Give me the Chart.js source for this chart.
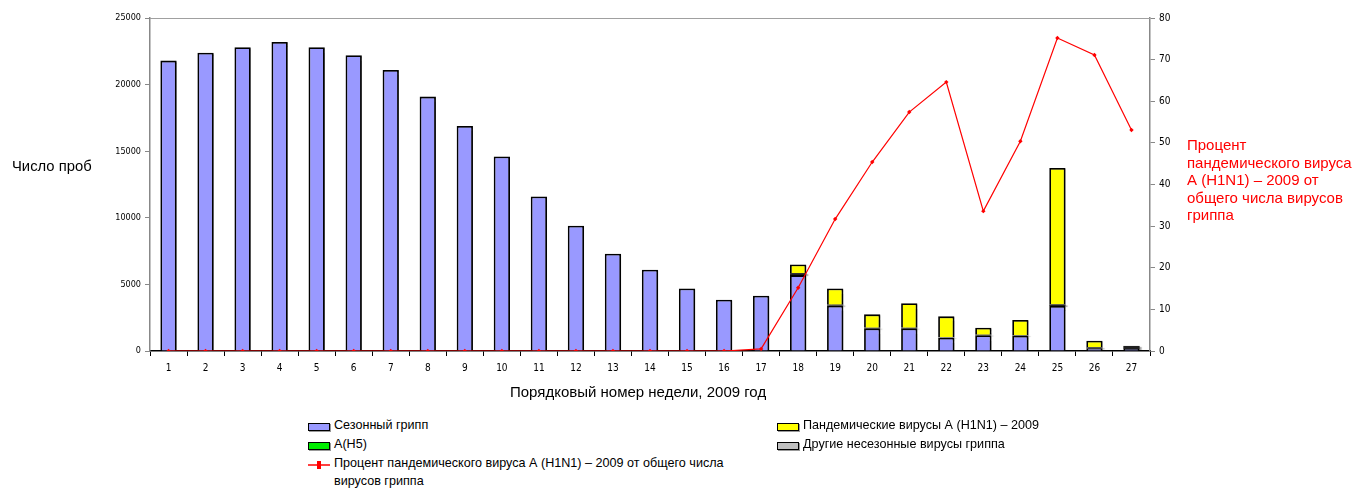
<!DOCTYPE html>
<html><head><meta charset="utf-8">
<script src="https://cdn.jsdelivr.net/npm/chart.js@4"></script>
<style>
body{margin:0;background:#fff;font-family:"Liberation Sans",Arial,sans-serif;}
#wrap{position:absolute;left:0;top:0;width:1358px;height:400px;}
.t{position:absolute;white-space:nowrap;color:#000;}
.lg{position:absolute;font-size:12.6px;color:#000;white-space:nowrap;}
.sw{position:absolute;width:20px;height:6px;border:1px solid #000;box-shadow:1px 1px 0 #999;}
</style></head><body>
<div id="wrap"><canvas id="c" width="1358" height="400"></canvas></div>
<div class="t" style="left:12px;top:158px;font-size:14.8px;">Число проб</div>
<div class="t" style="left:510px;top:383px;font-size:15px;">Порядковый номер недели, 2009 год</div>
<div class="t" style="left:1187px;top:136px;font-size:15px;color:#f00;line-height:17.5px;">Процент<br>пандемического вируса<br>А (H1N1) – 2009 от<br>общего числа вирусов<br>гриппа</div>
<div class="sw" style="left:308px;top:423px;background:#9999ff;"></div>
<div class="lg" style="left:334px;top:418px;">Сезонный грипп</div>
<div class="sw" style="left:308px;top:442px;background:#00ee00;"></div>
<div class="lg" style="left:334px;top:437px;">A(H5)</div>
<div style="position:absolute;left:308px;top:464px;width:22px;height:2px;background:#ff4040;"></div>
<div style="position:absolute;left:317px;top:461px;width:4px;height:8px;background:#ff0000;"></div>
<div class="lg" style="left:334px;top:456px;">Процент пандемического вируса А (H1N1) – 2009 от общего числа</div>
<div class="lg" style="left:334px;top:474px;">вирусов гриппа</div>
<div class="sw" style="left:777px;top:423px;background:#ffff00;"></div>
<div class="lg" style="left:803px;top:418px;">Пандемические вирусы А (H1N1) – 2009</div>
<div class="sw" style="left:777px;top:442px;background:#c0c0c0;"></div>
<div class="lg" style="left:803px;top:437px;">Другие несезонные вирусы гриппа</div>
<script>
const weeks = ['1','2','3','4','5','6','7','8','9','10','11','12','13','14','15','16','17','18','19','20','21','22','23','24','25','26','27'];
const seasonal = [21800,22400,22800,23200,22800,22200,21100,19100,16900,14600,11600,9400,7300,6100,4700,3850,4150,5700,3400,1700,1700,1000,1180,1150,3380,200,150];
const h5 = [0,0,0,0,0,0,0,0,0,0,0,0,0,0,0,0,0,0,0,0,0,0,0,0,0,0,0];
const otherNonSeasonal = [0,0,0,0,0,0,0,0,0,0,0,0,0,0,0,0,0,150,80,40,40,30,40,40,120,80,230];
const pandemic = [0,0,0,0,0,0,0,0,0,0,0,0,0,0,0,0,0,650,1220,1010,1840,1570,530,1140,10240,490,0];
const percentPandemic = [0,0,0,0,0,0,0,0,0,0,0,0,0,0,0,0,0.5,15.2,31.7,45.4,57.4,64.6,33.6,50.4,75.2,71.1,53.1];
const leftTicks = [0,5000,10000,15000,20000,25000];
const rightTicks = [0,10,20,30,40,50,60,70,80];

const tickFont = {family:"'Liberation Sans Narrow','Arial Narrow','DejaVu Sans Condensed',sans-serif", size:10};
const shadow = {
  id:'shadow',
  beforeDatasetDraw(chart,args){
    if(chart.data.datasets[args.index].type!=='line'){
      const ctx=chart.ctx;ctx.save();
      ctx.shadowColor='rgba(0,0,0,0.35)';ctx.shadowOffsetX=2;ctx.shadowOffsetY=1;ctx.shadowBlur=1;
    }
  },
  afterDatasetDraw(chart,args){
    if(chart.data.datasets[args.index].type!=='line'){chart.ctx.restore();}
  },
  afterDraw(chart){
    const ctx=chart.ctx,a=chart.chartArea;
    ctx.save();
    ctx.strokeStyle='#a0a0a0';ctx.lineWidth=1;
    ctx.beginPath();ctx.moveTo(a.left,a.top+0.5);ctx.lineTo(a.right,a.top+0.5);ctx.stroke();
    ctx.restore();
  }
};
const barCommon = {type:'bar',yAxisID:'y',stack:'s',borderColor:'#000',borderWidth:1.8,barPercentage:0.44,categoryPercentage:1,order:2};
new Chart(document.getElementById('c'),{
  data:{labels:weeks,datasets:[
    Object.assign({},barCommon,{label:'Сезонный грипп',data:seasonal,backgroundColor:'#9999ff'}),
    Object.assign({},barCommon,{label:'A(H5)',data:h5,backgroundColor:'#00ee00',borderWidth:0}),
    Object.assign({},barCommon,{label:'Другие несезонные вирусы гриппа',data:otherNonSeasonal,backgroundColor:'#202020',borderWidth:0}),
    Object.assign({},barCommon,{label:'Пандемические вирусы А (H1N1) – 2009',data:pandemic,backgroundColor:'#ffff00'}),
    {type:'line',label:'Процент',data:percentPandemic,yAxisID:'y1',borderColor:'#ff0000',borderWidth:1.2,backgroundColor:'#ff0000',pointRadius:2.2,pointStyle:'rectRot',pointBorderWidth:0,tension:0,order:0}
  ]},
  options:{
    responsive:false,animation:false,
    layout:{padding:{top:18,left:0,right:0,bottom:0}},
    plugins:{legend:{display:false},tooltip:{enabled:false}},
    scales:{
      x:{stacked:true,offset:true,
        grid:{display:true,offset:true,drawOnChartArea:false,color:'#000',tickLength:5,tickColor:'#000'},
        border:{color:'#000',width:1.5},
        ticks:{font:tickFont,color:'#000',padding:6,maxRotation:0,autoSkip:false},
        afterFit(s){s.height=49;}
      },
      y:{position:'left',stacked:true,min:0,max:25000,
        afterBuildTicks(s){s.ticks=leftTicks.map(v=>({value:v}));},
        grid:{drawOnChartArea:false,tickLength:5,color:'#888'},
        border:{color:'#888',width:1.5},
        ticks:{font:{...tickFont,size:9},color:'#000',padding:4,callback:v=>String(v)},
        afterFit(s){s.width=150;}
      },
      y1:{position:'right',min:0,max:80,
        afterBuildTicks(s){s.ticks=rightTicks.map(v=>({value:v}));},
        grid:{drawOnChartArea:false,tickLength:5,color:'#888'},
        border:{color:'#888',width:1.5},
        ticks:{font:tickFont,color:'#000',padding:4,callback:v=>String(v)},
        afterFit(s){s.width=208;}
      }
    }
  },
  plugins:[shadow]
});
</script>
</body></html>
